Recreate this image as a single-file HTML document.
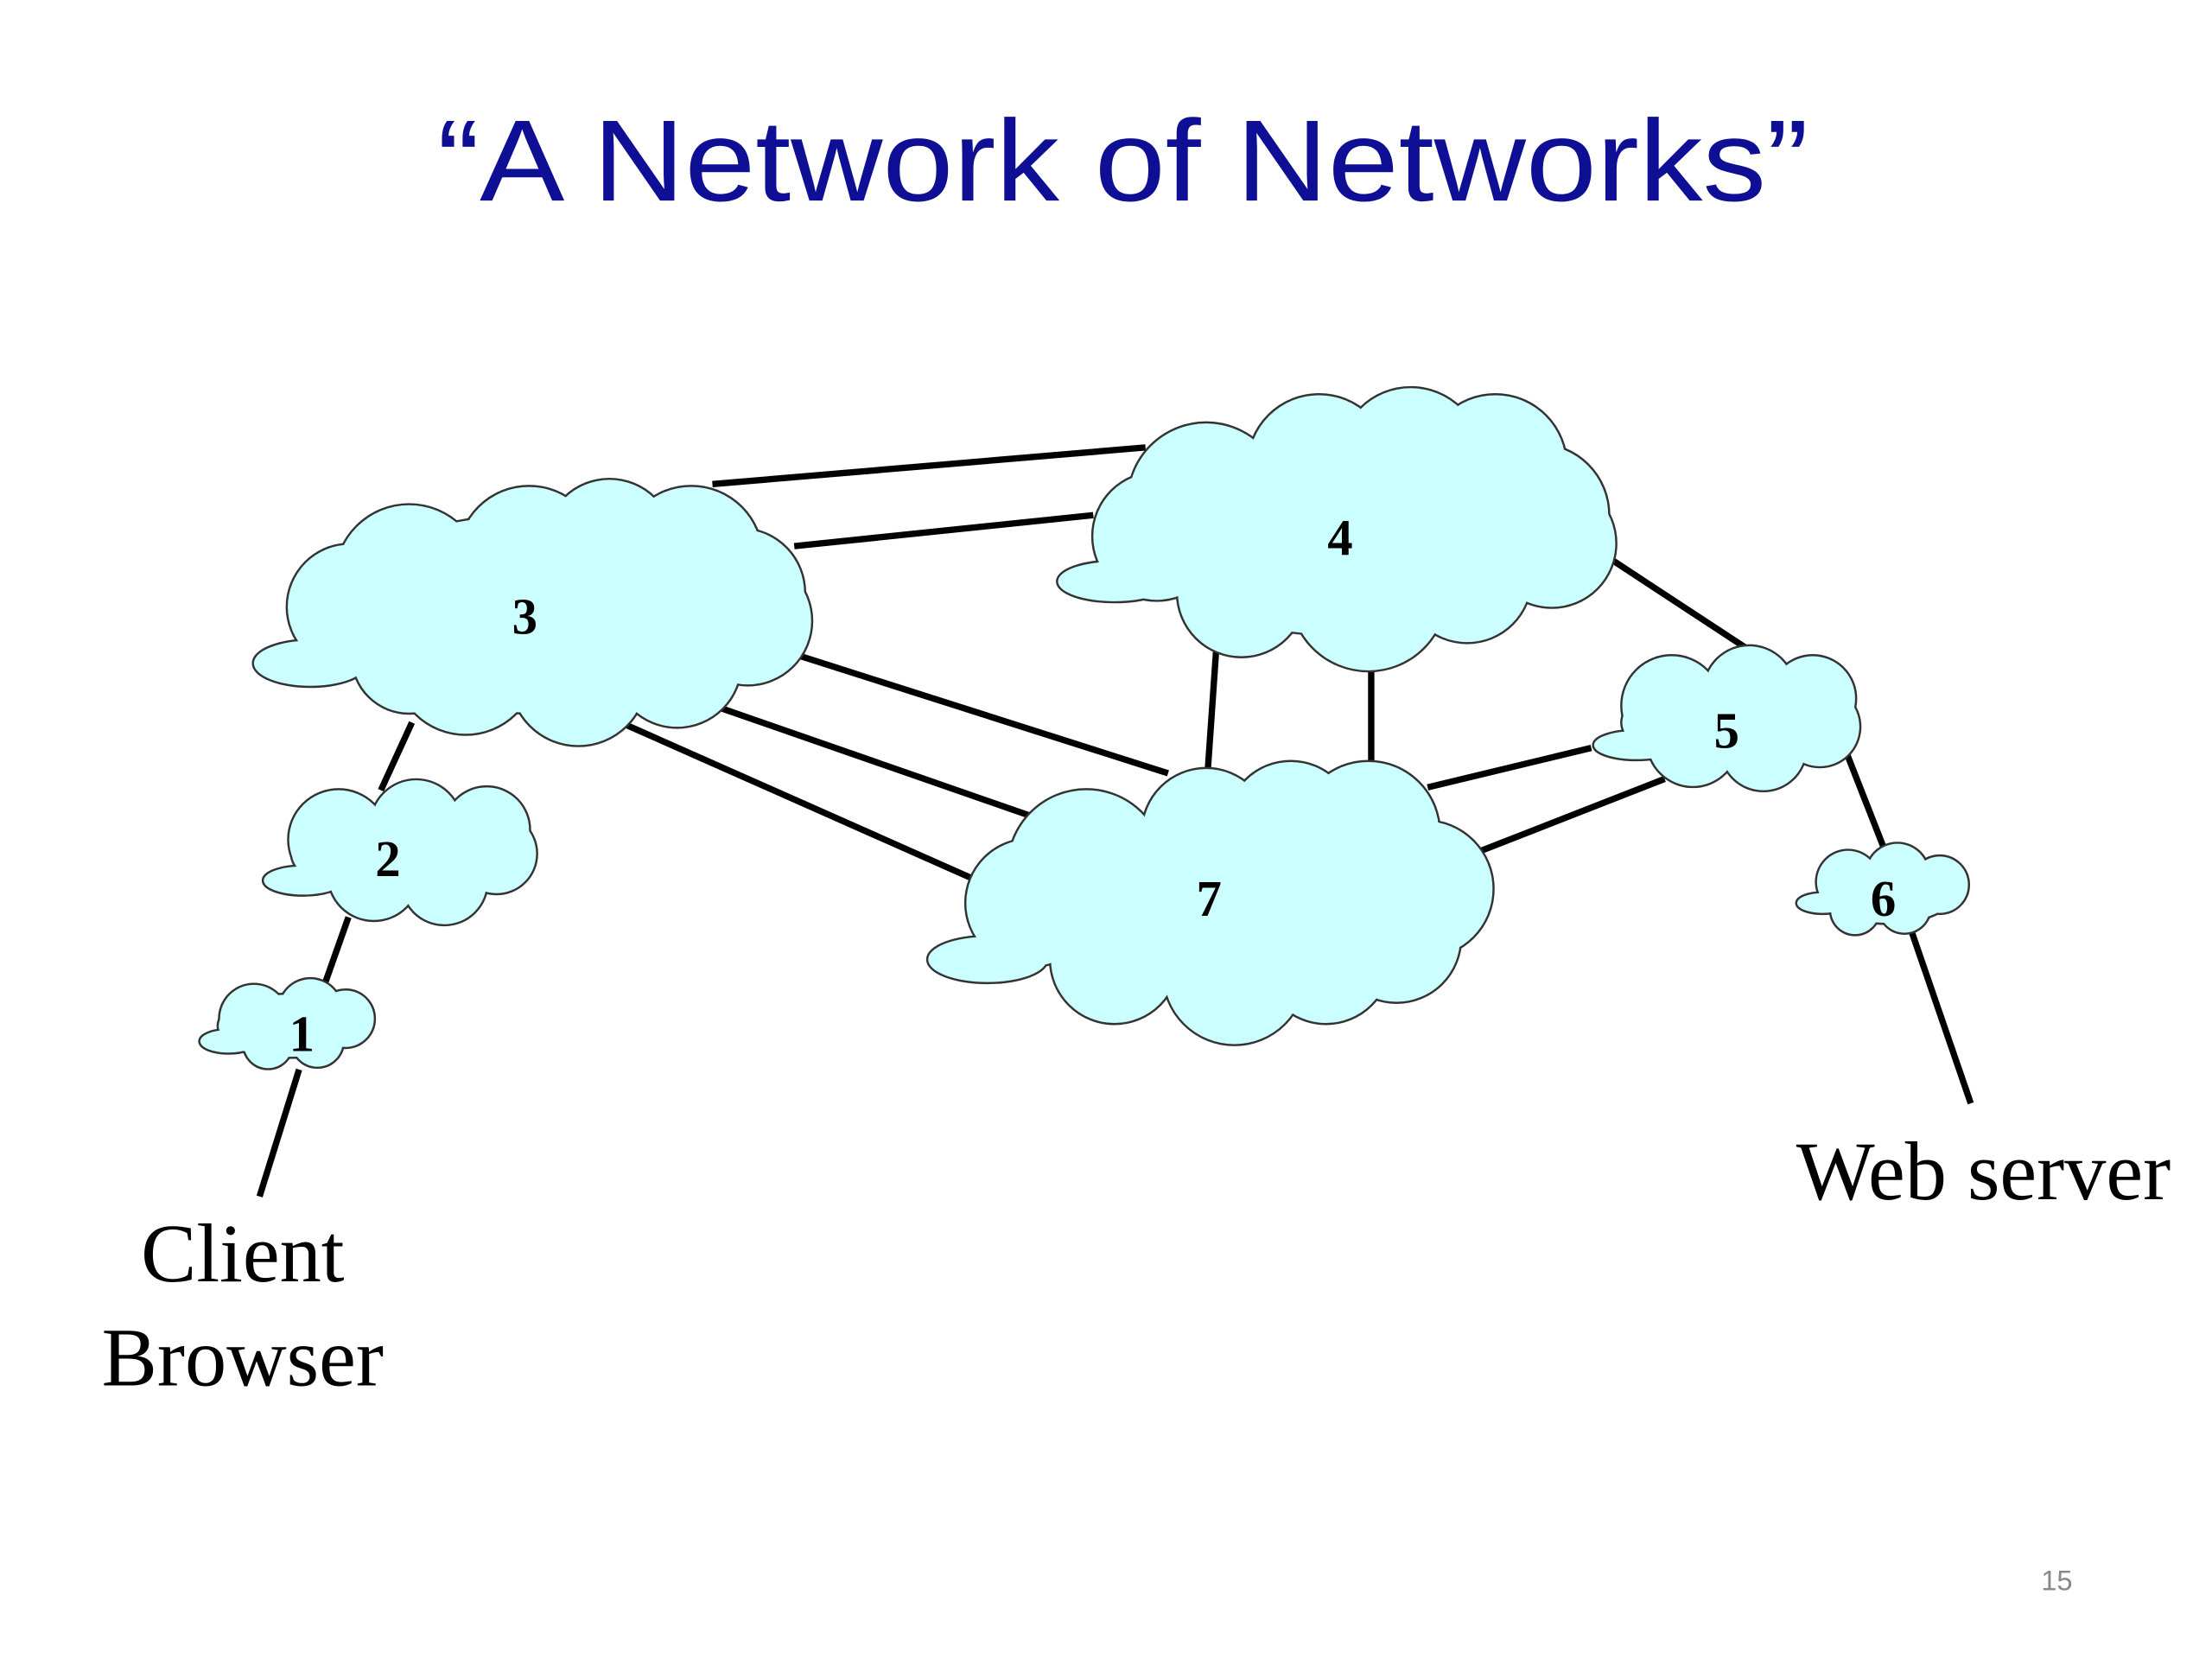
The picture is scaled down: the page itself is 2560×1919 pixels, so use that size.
<!DOCTYPE html>
<html><head><meta charset="utf-8"><style>
html,body{margin:0;padding:0;background:#fff;}
svg{display:block;}
</style></head><body>
<svg width="2560" height="1919" viewBox="0 0 1568 1175" xmlns="http://www.w3.org/2000/svg">
<defs>
<g id="c3">
<ellipse cx="220" cy="470" rx="40" ry="16"/>
<circle cx="290" cy="410" r="52"/><circle cx="248" cy="430" r="44"/>
<circle cx="375" cy="395" r="50"/><circle cx="432" cy="385" r="45"/>
<circle cx="490" cy="395" r="50"/><circle cx="525" cy="420" r="45"/><circle cx="530" cy="440" r="45"/>
<circle cx="480" cy="470" r="45"/><circle cx="410" cy="480" r="48"/>
<circle cx="330" cy="470" r="50"/><circle cx="290" cy="465" r="40"/>
<ellipse cx="380" cy="435" rx="150" ry="70"/>
</g>
<g id="c4">
<ellipse cx="790" cy="412" rx="40" ry="14"/>
<circle cx="855" cy="355" r="55"/><circle cx="820" cy="380" r="45"/>
<circle cx="935" cy="330" r="50"/><circle cx="1000" cy="325" r="50"/><circle cx="1060" cy="330" r="50"/>
<circle cx="1090" cy="365" r="50"/><circle cx="1100" cy="385" r="45"/>
<circle cx="1040" cy="410" r="45"/><circle cx="970" cy="420" r="55"/><circle cx="880" cy="420" r="45"/>
<ellipse cx="955" cy="380" rx="150" ry="70"/>
</g>
<g id="c7">
<ellipse cx="700" cy="680" rx="42" ry="16"/>
<circle cx="770" cy="615" r="55"/><circle cx="730" cy="640" r="45"/>
<circle cx="855" cy="590" r="45"/><circle cx="915" cy="585" r="45"/><circle cx="970" cy="590" r="50"/>
<circle cx="1010" cy="630" r="48"/><circle cx="990" cy="665" r="45"/>
<circle cx="940" cy="680" r="45"/><circle cx="875" cy="690" r="50"/><circle cx="790" cy="680" r="45"/>
<ellipse cx="865" cy="640" rx="150" ry="65"/>
</g>
<g id="c5">
<ellipse cx="1160" cy="528" rx="30" ry="10"/>
<circle cx="1185" cy="500" r="35"/><circle cx="1240" cy="490" r="32"/><circle cx="1285" cy="495" r="30"/>
<circle cx="1290" cy="515" r="28"/><circle cx="1250" cy="530" r="30"/><circle cx="1200" cy="525" r="32"/>
<ellipse cx="1225" cy="512" rx="75" ry="32"/>
</g>
<g id="c2">
<ellipse cx="215" cy="624" rx="28" ry="10"/>
<circle cx="240" cy="595" r="35"/><circle cx="295" cy="585" r="32"/><circle cx="345" cy="588" r="30"/>
<circle cx="352" cy="605" r="28"/><circle cx="315" cy="625" r="30"/><circle cx="265" cy="620" r="32"/>
<ellipse cx="285" cy="605" rx="78" ry="32"/>
</g>
<g id="c1">
<ellipse cx="162" cy="738" rx="20" ry="8"/>
<circle cx="180" cy="722" r="24"/><circle cx="220" cy="716" r="22"/><circle cx="245" cy="722" r="20"/>
<circle cx="225" cy="738" r="18"/><circle cx="190" cy="740" r="17"/>
<ellipse cx="205" cy="727" rx="50" ry="22"/>
</g>
<g id="c6">
<ellipse cx="1292" cy="640" rx="18" ry="7"/>
<circle cx="1310" cy="625" r="22"/><circle cx="1345" cy="620" r="22"/><circle cx="1375" cy="627" r="20"/>
<circle cx="1350" cy="643" r="18"/><circle cx="1315" cy="645" r="17"/>
<ellipse cx="1338" cy="632" rx="48" ry="22"/>
</g>
</defs>

<text x="310" y="142" textLength="972" lengthAdjust="spacingAndGlyphs" font-family="'Liberation Sans',sans-serif" font-size="82" fill="#0f0f96">“A Network of Networks”</text>

<g stroke="#000" stroke-width="4.5">
<line x1="505" y1="343" x2="812" y2="317"/>
<line x1="563" y1="387" x2="775" y2="365"/>
<line x1="555" y1="461" x2="828" y2="548"/>
<line x1="500" y1="498" x2="730" y2="578"/>
<line x1="440" y1="512" x2="688" y2="622"/>
<line x1="862" y1="462" x2="856" y2="548"/>
<line x1="972" y1="476" x2="972" y2="540"/>
<line x1="1140" y1="395" x2="1242" y2="462"/>
<line x1="1012" y1="558" x2="1128" y2="530"/>
<line x1="1042" y1="606" x2="1180" y2="552"/>
<line x1="1306" y1="526" x2="1335" y2="600"/>
<line x1="1355" y1="660" x2="1397" y2="782"/>
<line x1="292" y1="512" x2="270" y2="560"/>
<line x1="247" y1="650" x2="230" y2="698"/>
<line x1="212" y1="758" x2="184" y2="848"/>
</g>

<g fill="#333" stroke="#333" stroke-width="3">
<use href="#c3"/><use href="#c4"/><use href="#c7"/><use href="#c5"/><use href="#c2"/><use href="#c1"/><use href="#c6"/>
</g>
<g fill="#ccffff">
<use href="#c3"/><use href="#c4"/><use href="#c7"/><use href="#c5"/><use href="#c2"/><use href="#c1"/><use href="#c6"/>
</g>

<g font-family="'Liberation Serif',serif" font-weight="bold" font-size="36" text-anchor="middle" fill="#000">
<text x="372" y="449">3</text>
<text x="950" y="393">4</text>
<text x="857" y="649">7</text>
<text x="1224" y="530">5</text>
<text x="275" y="621">2</text>
<text x="214" y="745">1</text>
<text x="1335" y="649">6</text>
</g>

<g font-family="'Liberation Serif',serif" font-size="59" fill="#000" text-anchor="middle">
<text x="172" y="908">Client</text>
<text x="172" y="982">Browser</text>
<text x="1406" y="850">Web server</text>
</g>
<text x="1458" y="1127" font-family="'Liberation Sans',sans-serif" font-size="20" fill="#888" text-anchor="middle">15</text>
</svg>
</body></html>
